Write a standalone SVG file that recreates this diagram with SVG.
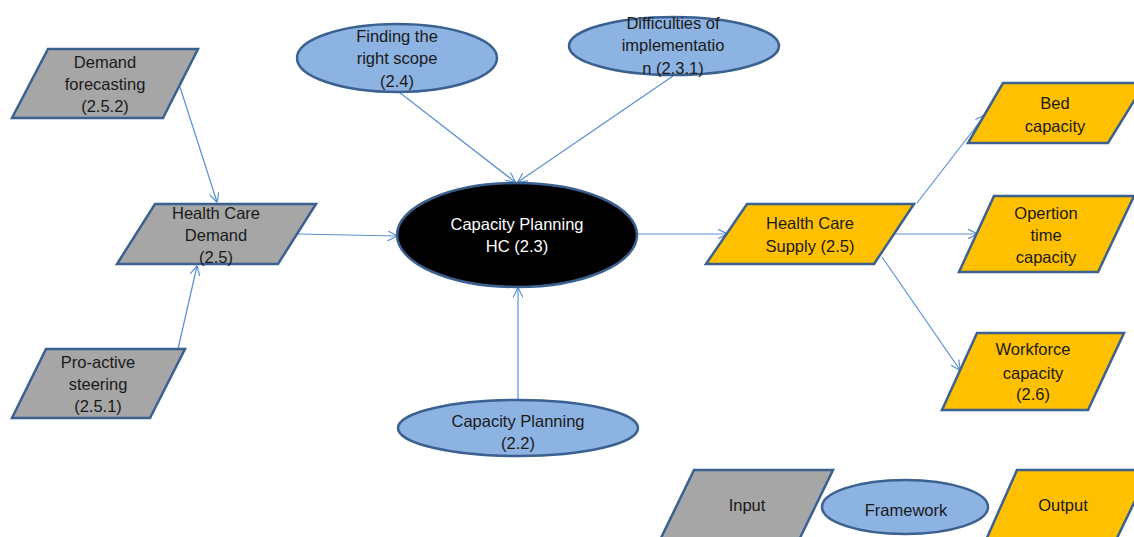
<svg xmlns="http://www.w3.org/2000/svg" width="1134" height="537" viewBox="0 0 1134 537">
<defs>
<style>
.gray{fill:#A6A6A6;stroke:#3B6190;stroke-width:2.5;stroke-linejoin:miter}
.blue{fill:#8DB3E2;stroke:#3B6190;stroke-width:2.5}
.orange{fill:#FFC000;stroke:#3B6190;stroke-width:2.5;stroke-linejoin:miter}
.black{fill:#000;stroke:#3B6190;stroke-width:2.5}
text{font-family:"Liberation Sans",Arial,sans-serif;font-size:16.5px;fill:#1a1a1a;text-anchor:middle}
text.w{fill:#fff}
.conn line{stroke:#5B8FD0;stroke-width:1.2;fill:none;marker-end:url(#arr)}
</style>
<marker id="arr" viewBox="0 0 10 10" refX="9.5" refY="5" markerWidth="10" markerHeight="10" markerUnits="userSpaceOnUse" orient="auto">
<path d="M0,0 L10,5 L0,10" fill="none" stroke="#5B8FD0" stroke-width="1.2"/>
</marker>
</defs>
<rect width="1134" height="537" fill="#fff"/>
<g class="conn">
<line x1="180" y1="87" x2="217" y2="202"/>
<line x1="178" y1="349" x2="197" y2="266"/>
<line x1="298" y1="234" x2="397" y2="236"/>
<line x1="399" y1="92" x2="515" y2="182"/>
<line x1="673" y1="76" x2="518" y2="182"/>
<line x1="518" y1="400" x2="518" y2="288"/>
<line x1="637" y1="234" x2="727" y2="234"/>
<line x1="917" y1="203" x2="985" y2="115"/>
<line x1="895" y1="234" x2="977" y2="234"/>
<line x1="882" y1="257" x2="960" y2="370"/>
</g>
<g id="demand-forecasting">
<polygon class="gray" points="48,49 198,49 163,118 12,118"/>
<text x="105" y="68">Demand</text>
<text x="105" y="90">forecasting</text>
<text x="105" y="112">(2.5.2)</text>
</g>
<g id="health-care-demand">
<polygon class="gray" points="155,204 316,204 278,264 117,264"/>
<text x="216" y="219">Health Care</text>
<text x="216" y="241">Demand</text>
<text x="216" y="263">(2.5)</text>
</g>
<g id="pro-active-steering">
<polygon class="gray" points="46,349 185,349 150,418 12,418"/>
<text x="98" y="368">Pro-active</text>
<text x="98" y="390">steering</text>
<text x="98" y="412">(2.5.1)</text>
</g>
<g id="finding-scope">
<ellipse class="blue" cx="397" cy="58" rx="100" ry="34"/>
<text x="397" y="42">Finding the</text>
<text x="397" y="64">right scope</text>
<text x="397" y="87">(2.4)</text>
</g>
<g id="difficulties">
<ellipse class="blue" cx="674" cy="46" rx="105" ry="29"/>
<text x="673" y="29">Difficulties of</text>
<text x="673" y="51">implementatio</text>
<text x="673" y="74">n (2.3.1)</text>
</g>
<g id="capacity-planning-hc">
<ellipse class="black" cx="517" cy="235" rx="120" ry="52"/>
<text class="w" x="517" y="230">Capacity Planning</text>
<text class="w" x="517" y="252">HC (2.3)</text>
</g>
<g id="capacity-planning">
<ellipse class="blue" cx="518" cy="428" rx="120" ry="28"/>
<text x="518" y="427">Capacity Planning</text>
<text x="518" y="449">(2.2)</text>
</g>
<g id="health-care-supply">
<polygon class="orange" points="747,204 914,204 874,264 706,264"/>
<text x="810" y="229">Health Care</text>
<text x="810" y="252">Supply (2.5)</text>
</g>
<g id="bed-capacity">
<polygon class="orange" points="1003,83 1145,83 1108,143 968,143"/>
<text x="1055" y="109">Bed</text>
<text x="1055" y="132">capacity</text>
</g>
<g id="opertion-time-capacity">
<polygon class="orange" points="994,196 1134,196 1098,272 959,272"/>
<text x="1046" y="219">Opertion</text>
<text x="1046" y="241">time</text>
<text x="1046" y="263">capacity</text>
</g>
<g id="workforce-capacity">
<polygon class="orange" points="977,333 1124,333 1088,410 942,410"/>
<text x="1033" y="355">Workforce</text>
<text x="1033" y="379">capacity</text>
<text x="1033" y="400">(2.6)</text>
</g>
<g id="legend-input">
<polygon class="gray" points="694,470 833,470 799,540 660,540"/>
<text x="747" y="511">Input</text>
</g>
<g id="legend-framework">
<ellipse class="blue" cx="905" cy="507" rx="83" ry="27"/>
<text x="906" y="516">Framework</text>
</g>
<g id="legend-output">
<polygon class="orange" points="1017,470 1150,470 1116,540 986,540"/>
<text x="1063" y="511">Output</text>
</g>
</svg>
